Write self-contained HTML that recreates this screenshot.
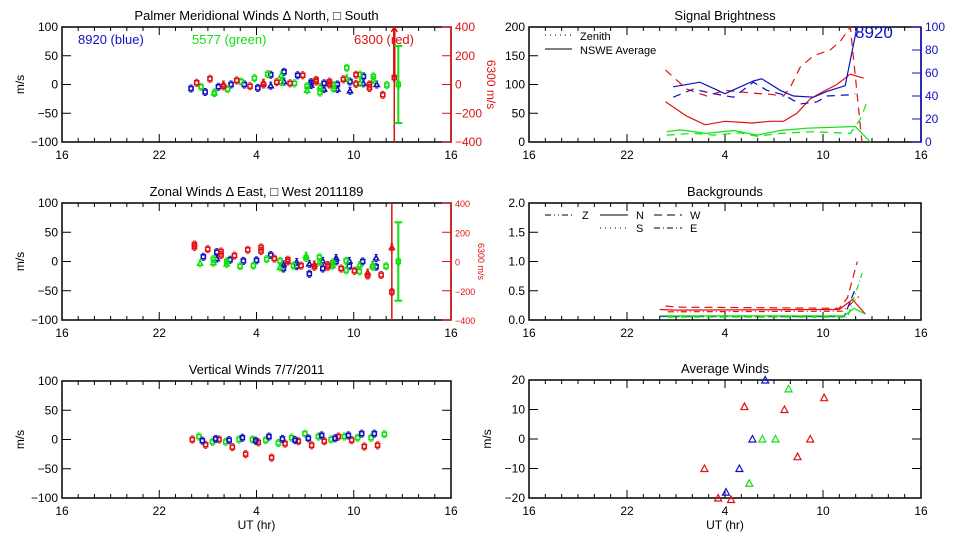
<!DOCTYPE html>
<html><head><meta charset="utf-8"><style>
html,body{margin:0;padding:0;background:#fff;}
svg{display:block;font-family:"Liberation Sans",sans-serif;}
</style></head><body>
<svg id="chart" width="960" height="540" viewBox="0 0 960 540" xmlns="http://www.w3.org/2000/svg"></svg>
<script>
// ---------- data (UT hours, values) ----------
const xTickLabels = ['16','22','4','10','16'];
// Meridional
const merBlueUT  = [-0.04,0.83,1.65,2.43,3.25,4.08,4.88,4.88,5.7,5.7,6.54,7.37,7.37,8.17,8.17,8.99,8.99,9.77,9.77,10.6,10.6,11.42];
const merBlueVal = [-7,-13,-4,0,0,-6,-2,17,22,5,16,4,-1,2,-8,0,-8,5,-11,14,2,0];
const merBlueShp = ['s','s','s','s','s','s','t','s','s','t','s','s','t','s','t','s','t','s','t','s','t','t'];
const merGreenUT  = [0.58,1.4,1.4,2.22,3.05,3.87,4.69,5.52,5.52,6.34,7.12,7.12,7.92,7.92,8.75,8.75,9.57,9.57,10.39,10.39,11.21,11.21,12.04];
const merGreenVal = [-4,-15,-14,-8,5,11,18,16,4,2,-3,-10,-4,-14,-1,-7,29,11,17,3,14,8,-1];
const merGreenShp = ['s','s','t','s','s','s','s','t','s','s','s','t','t','s','s','s','s','t','s','t','s','t','s'];
const merRedUT  = [0.31,1.13,1.96,1.96,2.78,3.6,4.43,4.43,5.25,6.07,6.85,7.68,7.68,8.5,8.5,9.36,10.14,10.14,10.97,10.97,11.79];
const merRedVal = [3,10,0,-3,7,-3,3,0,4,2,16,5,8,5,0,9,17,1,-6,0,-18];
const merRedShp = ['s','s','t','s','s','s','t','s','s','s','s','s','s','s','s','s','s','s','s','s','s'];
const merRedBarUT = [12.5];  const merRedBarVal = [12];
const merGreenBarUT = [12.75]; const merGreenBarVal = [0]; const merGreenBarErr = [67];
// Zonal
const zonBlueUT  = [0.72,1.55,1.55,2.37,3.19,4.0,4.88,5.66,5.66,6.48,6.48,7.26,7.26,8.09,8.09,8.91,8.91,9.73,9.73,10.55,11.38,11.38];
const zonBlueVal = [8,16,5,3,1,2,11,-12,-5,-1,-8,-21,-4,-12,1,6,0,-8,1,0,-9,6];
const zonBlueShp = ['s','s','t','s','s','s','s','s','t','t','s','s','t','s','t','t','s','s','t','s','s','t'];
const zonGreenUT  = [0.52,1.34,1.34,2.16,2.16,2.99,3.81,4.63,5.45,5.45,6.28,7.06,7.06,7.88,7.88,8.7,8.7,9.53,9.53,10.35,10.35,11.17,11.17,11.99];
const zonGreenVal = [-3,4,-2,0,-4,-8,-7,4,1,-10,-7,10,6,7,-1,-2,-7,1,-15,-6,-17,-6,-9,-8];
const zonGreenShp = ['t','s','t','s','t','s','s','s','s','t','s','t','s','s','t','s','t','s','s','t','s','t','s','s'];
const zonRedUT  = [0.17,0.17,0.99,1.81,1.81,2.64,3.46,4.28,4.28,5.1,5.93,5.93,6.75,7.57,7.57,8.4,8.4,9.22,10.04,10.86,10.86,11.69];
const zonRedVal = [29,25,21,17,11,10,20,24,18,5,3,0,-7,-5,-9,-6,-9,-12,-16,-19,-24,-23];
const zonRedShp = ['s','s','s','s','s','s','s','s','s','s','s','s','s','t','s','s','s','s','s','t','s','s'];
const zonRedBarUT = [12.35,12.35]; const zonRedBarVal = [24,-52];
const zonGreenBarUT = [12.75]; const zonGreenBarVal = [0]; const zonGreenBarErr = [67];
// Vertical
const verRedUT  = [0.04,0.86,1.69,2.51,3.33,4.11,4.93,5.76,6.58,7.4,8.18,9.05,9.87,10.65,11.47];
const verRedVal = [0,-9,0,-13,-25,-5,-31,-7,-3,-10,-3,5,-1,-12,-10];
const verGreenUT  = [0.45,1.28,2.1,2.92,3.75,4.57,5.35,6.17,6.99,7.82,8.6,9.42,10.24,11.07,11.89];
const verGreenVal = [5,-4,-4,0,0,-1,-6,3,10,5,0,5,3,3,9];
const verBlueUT  = [0.66,1.48,2.31,3.13,3.95,4.77,5.6,6.38,7.2,8.02,8.85,9.67,10.49,11.27];
const verBlueVal = [-2,1,-1,3,-2,5,1,-1,2,7,2,7,10,10];
// Brightness (red/green on left 0-200, blue on right 0-100)
const briRedSolidUT  = [0.36,1.65,2.78,4.0,5.64,6.77,7.58,8.4,9.22,10.03,10.85,11.67,12.49];
const briRedSolidVal = [70,45,30,36,33,36,36,50,75,88,100,118,111];
const briRedDashUT  = [0.36,1.65,2.88,4.0,5.64,6.77,7.58,7.99,8.6,9.42,10.44,11.06,11.67,11.98,12.38];
const briRedDashVal = [125,92,80,90,85,83,80,95,130,150,160,175,200,115,0];
const briGreenSolidUT  = [0.43,1.24,2.88,4.52,5.95,7.38,9.01,11.98,12.9];
const briGreenSolidVal = [18,21,15,20,12,20,24,27,0];
const briGreenDashUT  = [0.43,2.06,3.29,4.93,5.95,7.38,9.42,11.67,12.29,12.7];
const briGreenDashVal = [12,15,12,16,10,15,18,15,40,70];
const briBlueSolidUT  = [0.83,2.47,4.0,5.74,6.25,7.38,8.19,9.42,10.24,11.36,12.08];
const briBlueSolidVal = [48,52,42,53,55,45,40,39,44,49,100];
const briBlueDashUT  = [0.83,2.06,3.29,4.52,5.74,6.56,7.58,8.6,9.63,10.24,11.67,11.98];
const briBlueDashVal = [39,46,42,39,52,45,41,33,35,40,41,42];
// Backgrounds
const bgRedDashUT = [0.36,1.0,11.0,11.5,12.1]; const bgRedDashVal = [0.24,0.22,0.2,0.38,1.0];
const bgRedSolidUT = [0.0,1.0,11.0,11.8,12.6]; const bgRedSolidVal = [0.18,0.17,0.18,0.35,0.1];
const bgRedDotUT = [0.5,11.2,12.2]; const bgRedDotVal = [0.14,0.15,0.4];
const bgBlueUT = [0.0,11.3,12.0]; const bgBlueVal = [0.06,0.06,0.55];
const bgGreenUT = [0.0,11.3,11.9,12.6]; const bgGreenVal = [0.07,0.07,0.2,0.1];
const bgGreenDotUT = [0.5,11.5,12.4]; const bgGreenDotVal = [0.05,0.05,0.8];
// Average winds
const avgBlueUT = [6.46,5.68,4.88,4.06]; const avgBlueVal = [20,0,-10,-18];
const avgGreenUT = [7.89,6.29,7.09,5.49]; const avgGreenVal = [17,0,0,-15];
const avgRedUT = [10.07,5.19,7.64,9.22,8.44,2.74,3.58,4.37]; const avgRedVal = [14,11,10,0,-6,-10,-20,-20.5];

// ---------- drawing ----------
const NS='http://www.w3.org/2000/svg';
const svg=document.getElementById('chart');
function mk(tag,attrs,parent){const e=document.createElementNS(NS,tag);for(const k in attrs)e.setAttribute(k,attrs[k]);(parent||svg).appendChild(e);return e;}
function txt(s,x,y,opt,parent){const e=mk('text',Object.assign({x:x,y:y,'font-size':12,fill:'#000'},opt||{}),parent);e.textContent=s;return e;}
const RED='#e01010',GREEN='#10e010',BLUE='#1010c0';

function panel(name,x0,x1,y0,y1,ymin,ymax,yticks,ylabel,title,xlabel,noRightTicks){
  const g=mk('g',{});
  
  
  const X=ut=>x0+(((ut-16)%24+24)%24)/24*(x1-x0);
  const Y=v=>y1-(v-ymin)/(ymax-ymin)*(y1-y0);
  const fr=mk('rect',{x:x0,y:y0,width:x1-x0,height:y1-y0,fill:'none',stroke:'#000','stroke-width':1.5},g);
  
  
  for(let i=0;i<=24;i++){
    const x=x0+i/24*(x1-x0);const L=(i%6===0)?8:4;
    mk('line',{x1:x,y1:y1,x2:x,y2:y1-L,stroke:'#000'},g);
    mk('line',{x1:x,y1:y0,x2:x,y2:y0+L,stroke:'#000'},g);
  }
  xTickLabels.forEach((s,i)=>{const t=txt(s,x0+i/4*(x1-x0),y1+17,{'text-anchor':'middle'},g);
    });
  yticks.forEach(v=>{const y=Y(v);
    mk('line',{x1:x0,y1:y,x2:x0+9,y2:y,stroke:'#000'},g);
    if(!noRightTicks)mk('line',{x1:x1,y1:y,x2:x1-9,y2:y,stroke:'#000'},g);
    const t=txt(String(v).replace('-','\u2212'),x0-4,y+4,{'text-anchor':'end'},g);
    if(ymax<=2)t.textContent=v.toFixed(1);
    });
  if(ylabel){const t=txt(ylabel,0,0,{'text-anchor':'middle',transform:`translate(${x0-38},${(y0+y1)/2}) rotate(-90)`},g);
    }
  const tt=txt(title,(x0+x1)/2,y0-7,{'text-anchor':'middle','font-size':13},g);
  
  if(xlabel){const t=txt(xlabel,(x0+x1)/2,y1+31,{'text-anchor':'middle'},g);
    }
  return {g,X,Y,x0,x1,y0,y1};
}
function marker(P,ut,v,shape,color,name){
  const x=P.X(ut),y=P.Y(v);let e;
  if(shape==='t') e=mk('path',{d:`M${x-2.5},${y+2} L${x+2.5},${y+2} L${x},${y-2.5} Z`,fill:'none',stroke:color,'stroke-width':1.6},P.g);
  else e=mk('rect',{x:x-2,y:y-2,width:4,height:4,fill:'none',stroke:color,'stroke-width':1.6},P.g);
  
  
  mk('line',{x1:x-1.5,y1:y-3.5,x2:x+1.5,y2:y-3.5,stroke:color},P.g);
  mk('line',{x1:x-1.5,y1:y+3.5,x2:x+1.5,y2:y+3.5,stroke:color},P.g);
}
function series(P,uts,vals,shapes,color,name){uts.forEach((u,i)=>marker(P,u,vals[i],shapes?shapes[i]:'s',color,name));}
function tri(P,uts,vals,color,name){uts.forEach((u,i)=>{const x=P.X(u),y=P.Y(vals[i]);
  const e=mk('path',{d:`M${x-3.5},${y+3} L${x+3.5},${y+3} L${x},${y-3.5} Z`,fill:'none',stroke:color,'stroke-width':1.2},P.g);
  });}
function line(P,uts,vals,color,dash,scale,name){
  const d=uts.map((u,i)=>(i?'L':'M')+P.X(u).toFixed(1)+','+P.Y(vals[i]*(scale||1)).toFixed(1)).join(' ');
  const e=mk('path',{d:d,fill:'none',stroke:color,'stroke-width':1.2,'stroke-dasharray':dash||'none'},P.g);
  }
function rightAxis(P,ticks,min,max,color,label,fs,lx){
  const g=mk('g',{},P.g);
  
  
  mk('line',{x1:P.x1,y1:P.y0,x2:P.x1,y2:P.y1,stroke:color,'stroke-width':1.5},g);
  ticks.forEach(v=>{const y=P.y1-(v-min)/(max-min)*(P.y1-P.y0);
    mk('line',{x1:P.x1,y1:y,x2:P.x1-9,y2:y,stroke:color},g);
    txt(String(v).replace('-','\u2212'),P.x1+4,y+4,{fill:color,'font-size':fs},g);});
  if(label)txt(label,0,0,{fill:color,'font-size':fs,'text-anchor':'middle',transform:`translate(${lx},${(P.y0+P.y1)/2}) rotate(90)`},g);
}
function errBar(P,ut,v,err,color,name){const x=P.X(ut);
  const e=mk('line',{x1:x,y1:P.Y(v+err),x2:x,y2:P.Y(v-err),stroke:color,'stroke-width':2},P.g);
  
  mk('line',{x1:x-4,y1:P.Y(v+err),x2:x+4,y2:P.Y(v+err),stroke:color,'stroke-width':2},P.g);
  mk('line',{x1:x-4,y1:P.Y(v-err),x2:x+4,y2:P.Y(v-err),stroke:color,'stroke-width':2},P.g);
  marker(P,ut,v,'s',color,name+'-point');}

// Panel 1: Meridional
const P1=panel('meridional-panel',62,451,27,142,-100,100,[100,50,0,-50,-100],'m/s','Palmer Meridional Winds \u0394 North, \u25A1 South',null,true);
rightAxis(P1,[400,200,0,-200,-400],-400,400,RED,'6300 m/s',12,487);
txt('8920 (blue)',78,44,{fill:BLUE,'font-size':13},P1.g);
txt('5577 (green)',192,44,{fill:GREEN,'font-size':13},P1.g);
txt('6300 (red)',354,44,{fill:RED,'font-size':13},P1.g);
series(P1,merBlueUT,merBlueVal,merBlueShp,BLUE,'meridional-8920-point');
series(P1,merGreenUT,merGreenVal,merGreenShp,GREEN,'meridional-5577-point');
series(P1,merRedUT,merRedVal,merRedShp,RED,'meridional-6300-point');
merRedBarUT.forEach((u,i)=>{const x=P1.X(u);
  const e=mk('line',{x1:x,y1:P1.y0,x2:x,y2:P1.y1,stroke:RED,'stroke-width':1.5},P1.g);
  
  mk('path',{d:`M${x-3},${P1.y0+5} L${x},${P1.y0} L${x+3},${P1.y0+5}`,fill:'none',stroke:RED,'stroke-width':1.5},P1.g);
  mk('line',{x1:x,y1:P1.y0,x2:x,y2:P1.Y(merRedBarVal[i]),stroke:RED,'stroke-width':2.5},P1.g);
  marker(P1,u,merRedBarVal[i],'s',RED,'meridional-6300-bar-point');});
merGreenBarUT.forEach((u,i)=>errBar(P1,u,merGreenBarVal[i],merGreenBarErr[i],GREEN,'meridional-5577-errorbar'));

// Panel 2: Zonal
const P2=panel('zonal-panel',62,451,203,320,-100,100,[100,50,0,-50,-100],'m/s','Zonal Winds \u0394 East, \u25A1 West 2011189',null,true);
rightAxis(P2,[400,200,0,-200,-400],-400,400,RED,'6300 m/s',9,478);
series(P2,zonBlueUT,zonBlueVal,zonBlueShp,BLUE,'zonal-8920-point');
series(P2,zonGreenUT,zonGreenVal,zonGreenShp,GREEN,'zonal-5577-point');
series(P2,zonRedUT,zonRedVal,zonRedShp,RED,'zonal-6300-point');
(function(){const x=P2.X(zonRedBarUT[0]);
  const e=mk('line',{x1:x,y1:P2.y0,x2:x,y2:P2.y1,stroke:RED,'stroke-width':1.5},P2.g);
  })();
zonRedBarUT.forEach((u,i)=>marker(P2,u,zonRedBarVal[i],i?'s':'t',RED,'zonal-6300-bar-point'));
zonGreenBarUT.forEach((u,i)=>errBar(P2,u,zonGreenBarVal[i],zonGreenBarErr[i],GREEN,'zonal-5577-errorbar'));

// Panel 3: Vertical
const P3=panel('vertical-panel',62,451,381,498,-100,100,[100,50,0,-50,-100],'m/s','Vertical Winds 7/7/2011','UT (hr)');
series(P3,verRedUT,verRedVal,null,RED,'vertical-6300-point');
series(P3,verGreenUT,verGreenVal,null,GREEN,'vertical-5577-point');
series(P3,verBlueUT,verBlueVal,null,BLUE,'vertical-8920-point');

// Panel 4: Brightness
const P4=panel('brightness-panel',529,921,27,142,0,200,[200,150,100,50,0],null,'Signal Brightness',null,true);
rightAxis(P4,[100,80,60,40,20,0],0,100,BLUE,null,12,0);
line(P4,briRedSolidUT,briRedSolidVal,RED,null,1,'brightness-6300-average');
line(P4,briRedDashUT,briRedDashVal,RED,'8,6',1,'brightness-6300-zenith');
line(P4,briGreenSolidUT,briGreenSolidVal,GREEN,null,1,'brightness-5577-average');
line(P4,briGreenDashUT,briGreenDashVal,GREEN,'8,6',1,'brightness-5577-zenith');
line(P4,briBlueSolidUT,briBlueSolidVal,BLUE,null,2,'brightness-8920-average');
line(P4,briBlueDashUT,briBlueDashVal,BLUE,'8,6',2,'brightness-8920-zenith');
mk('line',{x1:545,y1:35,x2:572,y2:35,stroke:'#000','stroke-dasharray':'1,4'},P4.g);
txt('Zenith',580,40,{'font-size':11},P4.g);
mk('line',{x1:545,y1:49,x2:572,y2:49,stroke:'#000'},P4.g);
txt('NSWE Average',580,54,{'font-size':11},P4.g);
txt('8920',855,38,{fill:BLUE,'font-size':17},P4.g);

// Panel 5: Backgrounds
const P5=panel('backgrounds-panel',529,921,203,320,0,2,[2.0,1.5,1.0,0.5,0.0],null,'Backgrounds');
line(P5,bgRedDashUT,bgRedDashVal,RED,'8,5',1,'background-red-w');
line(P5,bgRedSolidUT,bgRedSolidVal,RED,null,1,'background-red-n');
line(P5,bgRedDotUT,bgRedDotVal,RED,'6,3,1,3',1,'background-red-e');
line(P5,bgBlueUT,bgBlueVal,BLUE,'8,4',1,'background-blue');
line(P5,bgGreenUT,bgGreenVal,GREEN,null,1,'background-green');
line(P5,bgGreenDotUT,bgGreenDotVal,GREEN,'6,3,1,3',1,'background-green-e');
[['6,3,1,3,1,3',545,215,'Z',582],['none',600,215,'N',636],['8,5',654,215,'W',690],['1,4',600,228,'S',636],['6,3,1,3',654,228,'E',690]].forEach(a=>{
  mk('line',{x1:a[1],y1:a[2],x2:a[1]+28,y2:a[2],stroke:'#000','stroke-dasharray':a[0]},P5.g);
  txt(a[3],a[4],a[2]+4,{'font-size':11},P5.g);});

// Panel 6: Average winds
const P6=panel('average-winds-panel',529,921,380,498,-20,20,[20,10,0,-10,-20],'m/s','Average Winds','UT (hr)');
tri(P6,avgBlueUT,avgBlueVal,BLUE,'average-8920-point');
tri(P6,avgGreenUT,avgGreenVal,GREEN,'average-5577-point');
tri(P6,avgRedUT,avgRedVal,RED,'average-6300-point');
</script>
</body></html>
